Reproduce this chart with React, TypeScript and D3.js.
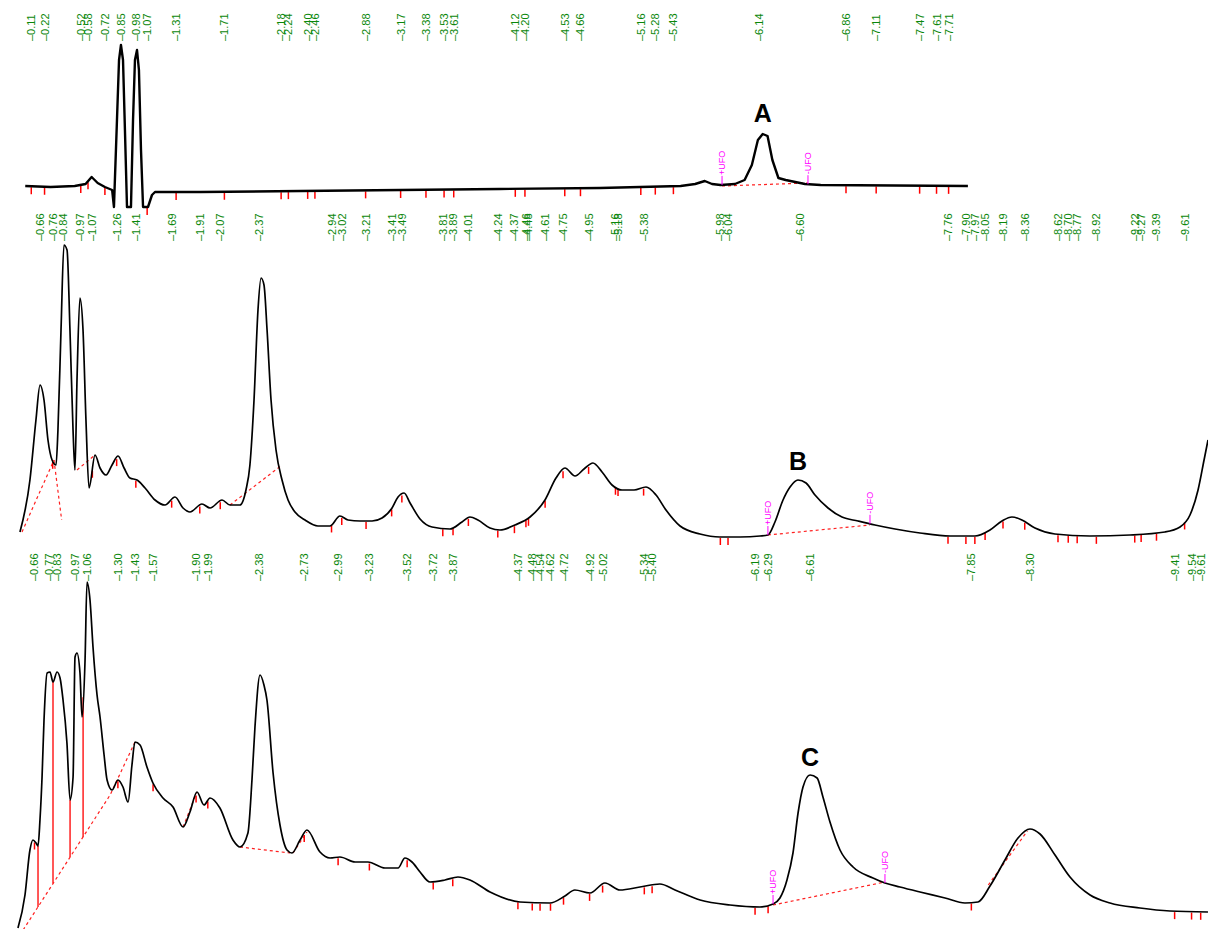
import React from 'react';
import * as d3 from 'd3';

// retention time (min), signal (mAU)
const traceA: [number, number][] = [
  [0.06, 4], [0.27, 3], [0.47, 4], [0.56, 6], [0.61, 13], [0.66, 7], [0.72, 3], [0.78, 0],
  [0.795, -17], [0.82, 70], [0.837, 130], [0.853, 145], [0.87, 130], [0.886, 60], [0.903, -17],
  [0.936, -17], [0.953, 70], [0.969, 130], [0.986, 140], [1.002, 120], [1.019, 40], [1.036, -17],
  [1.077, -17], [1.11, -5], [1.135, -2], [1.51, -2], [2.34, -1], [3.17, 0], [3.99, 1], [4.82, 2],
  [5.49, 4], [5.61, 6], [5.69, 9], [5.75, 6], [5.82, 5], [5.94, 6], [6.02, 10], [6.08, 25],
  [6.13, 50], [6.17, 56], [6.21, 54], [6.25, 30], [6.3, 12], [6.36, 10], [6.44, 8], [6.52, 6],
  [6.65, 5], [7.87, 4],
];

const traceB: [number, number][] = [
  [0.504, 8], [0.582, 60], [0.629, 120], [0.661, 155], [0.692, 140], [0.723, 100], [0.755, 80],
  [0.786, 75], [0.801, 110], [0.825, 210], [0.848, 295], [0.872, 290], [0.895, 210], [0.919, 110],
  [0.934, 70], [0.95, 160], [0.973, 242], [0.997, 210], [1.02, 120], [1.044, 52], [1.091, 85],
  [1.13, 72], [1.177, 65], [1.224, 75], [1.271, 84], [1.318, 72], [1.364, 62], [1.419, 60],
  [1.482, 52], [1.56, 40], [1.638, 35], [1.716, 43], [1.779, 32], [1.833, 28], [1.927, 36],
  [1.99, 32], [2.084, 40], [2.146, 35], [2.224, 35], [2.271, 50], [2.302, 75], [2.334, 140],
  [2.365, 230], [2.389, 262], [2.412, 255], [2.436, 210], [2.467, 140], [2.506, 90], [2.553, 60],
  [2.6, 40], [2.654, 28], [2.733, 20], [2.834, 14], [2.928, 14], [3.006, 24], [3.069, 20],
  [3.163, 19], [3.257, 19], [3.335, 22], [3.413, 32], [3.46, 43], [3.507, 47], [3.554, 37],
  [3.632, 21], [3.726, 13], [3.866, 11], [3.96, 18], [4.022, 23], [4.085, 20], [4.179, 12],
  [4.257, 10], [4.374, 15], [4.492, 23], [4.609, 40], [4.695, 62], [4.765, 72], [4.844, 64],
  [4.914, 71], [4.984, 77], [5.055, 68], [5.133, 55], [5.211, 50], [5.305, 50], [5.399, 53],
  [5.477, 45], [5.555, 30], [5.665, 14], [5.821, 6], [5.977, 3], [6.134, 3], [6.29, 4],
  [6.352, 5], [6.407, 18], [6.47, 40], [6.525, 53], [6.587, 60], [6.65, 57], [6.72, 45],
  [6.822, 32], [6.931, 23], [7.056, 19], [7.189, 15], [7.346, 11], [7.541, 7], [7.776, 4],
  [7.971, 4], [8.088, 10], [8.182, 19], [8.26, 23], [8.338, 20], [8.44, 12], [8.596, 6],
  [8.87, 4], [9.183, 5], [9.456, 8], [9.574, 13], [9.652, 25], [9.715, 50], [9.762, 80],
  [9.793, 100],
];

const traceC: [number, number][] = [
  [0.533, -13], [0.587, 20], [0.625, 65], [0.648, 75], [0.672, 72], [0.687, 69], [0.702, 95],
  [0.718, 138], [0.733, 195], [0.757, 242], [0.779, 243], [0.802, 233], [0.833, 243], [0.856, 237],
  [0.879, 215], [0.909, 172], [0.933, 115], [0.956, 138], [0.971, 258], [0.986, 262], [1.009, 242],
  [1.025, 198], [1.048, 255], [1.063, 333], [1.086, 315], [1.109, 268], [1.14, 220], [1.163, 198],
  [1.194, 160], [1.217, 135], [1.255, 125], [1.301, 135], [1.339, 128], [1.378, 113], [1.408, 150],
  [1.431, 173], [1.47, 170], [1.523, 148], [1.569, 132], [1.646, 117], [1.723, 108], [1.8, 88],
  [1.853, 103], [1.907, 123], [1.961, 110], [2.007, 117], [2.083, 107], [2.183, 75], [2.237, 68],
  [2.298, 82], [2.329, 135], [2.352, 188], [2.391, 240], [2.421, 230], [2.444, 215], [2.491, 142],
  [2.544, 90], [2.598, 65], [2.636, 62], [2.698, 75], [2.751, 85], [2.851, 63], [2.928, 57],
  [3.004, 58], [3.12, 53], [3.219, 53], [3.35, 47], [3.45, 47], [3.503, 57], [3.557, 53],
  [3.619, 43], [3.695, 33], [3.81, 35], [3.91, 38], [4.002, 35], [4.156, 23], [4.386, 13],
  [4.616, 12], [4.731, 19], [4.807, 25], [4.923, 22], [5.038, 32], [5.153, 25], [5.307, 28],
  [5.46, 31], [5.576, 25], [5.768, 15], [5.998, 10], [6.228, 8], [6.328, 11], [6.381, 17],
  [6.435, 35], [6.481, 62], [6.52, 102], [6.558, 128], [6.612, 140], [6.666, 137], [6.711, 118],
  [6.765, 93], [6.842, 65], [6.942, 48], [7.095, 37], [7.187, 32], [7.302, 28], [7.456, 23],
  [7.648, 17], [7.801, 12], [7.901, 13], [7.993, 29], [8.108, 55], [8.208, 77], [8.3, 86],
  [8.377, 81], [8.492, 60], [8.607, 38], [8.761, 20], [8.914, 12], [9.144, 7], [9.374, 4],
  [9.666, 3],
];

// peak retention-time labels
const labelsA = [0.11, 0.22, 0.52, 0.58, 0.72, 0.85, 0.98, 1.07, 1.31, 1.71, 2.18, 2.24, 2.40, 2.46,
  2.88, 3.17, 3.38, 3.53, 3.61, 4.12, 4.20, 4.53, 4.66, 5.16, 5.28, 5.43, 6.14, 6.86, 7.11, 7.47,
  7.61, 7.71];
const labelsB = [0.66, 0.76, 0.84, 0.97, 1.07, 1.26, 1.41, 1.69, 1.91, 2.07, 2.37, 2.94, 3.02, 3.21,
  3.41, 3.49, 3.81, 3.89, 4.01, 4.24, 4.37, 4.46, 4.48, 4.61, 4.75, 4.95, 5.16, 5.18, 5.38, 5.98,
  6.04, 6.60, 7.76, 7.90, 7.97, 8.05, 8.19, 8.36, 8.62, 8.70, 8.77, 8.92, 9.22, 9.27, 9.39, 9.61];
const labelsC = [0.66, 0.77, 0.83, 0.97, 1.06, 1.30, 1.43, 1.57, 1.90, 1.99, 2.38, 2.73, 2.99, 3.23,
  3.52, 3.72, 3.87, 4.37, 4.48, 4.54, 4.62, 4.72, 4.92, 5.02, 5.34, 5.40, 6.19, 6.29, 6.61, 7.85,
  8.30, 9.41, 9.54, 9.61];

// labelled apexes that carry no red integration tick
const apexA = [0.85, 0.98, 6.14];
const apexB = [0.66, 0.84, 0.97, 2.37, 6.60];
const apexC = [0.77, 0.83, 0.97, 1.06, 1.43, 2.38, 6.61, 8.30];

// integration baselines (dashed) as [t, signal] segments
const baselinesA: [number, number][][] = [[[5.833, 4], [6.545, 7]]];
const baselinesB: [number, number][][] = [
  [[0.52, 8], [0.77, 80]], [[0.77, 80], [0.83, 20]], [[0.95, 70], [1.09, 85]],
  [[2.146, 35], [2.553, 75]], [[6.352, 5], [7.15, 15]],
];
const baselinesC: [number, number][][] = [
  [[0.548, -20], [1.24, 120], [1.431, 173]], [[1.8, 88], [1.907, 123]],
  [[2.237, 68], [2.621, 62]], [[2.644, 62], [2.751, 83]], [[7.98, 30], [8.28, 84]],
  [[6.328, 10], [7.187, 33]],
];
const dropsC = [0.687, 0.802, 0.933, 1.033];

// unresolved-front markers [t, text]
const ufoA: [number, string][] = [[5.833, '+UFO'], [6.545, '-UFO']];
const ufoB: [number, string][] = [[6.352, '+UFO'], [7.15, '-UFO']];
const ufoC: [number, string][] = [[6.328, '+UFO'], [7.187, '-UFO']];

const peakNames = ['A', 'B', 'C'];
const peakTimes = [6.17, 6.587, 6.612];

const W = 1208, H = 929;

const panels = [
  { trace: traceA, labels: labelsA, apex: apexA, base: baselinesA, ufo: ufoA, drops: [] as number[],
    x: d3.scaleLinear().domain([0, 10]).range([18, 18 + 1207]),
    y: d3.scaleLinear().domain([0, 150]).range([190, 40]), labelY: 41, sw: 2.4, nameY: 122 },
  { trace: traceB, labels: labelsB, apex: apexB, base: baselinesB, ufo: ufoB, drops: [] as number[],
    x: d3.scaleLinear().domain([0, 10]).range([-44.5, -44.5 + 1279]),
    y: d3.scaleLinear().domain([0, 300]).range([540, 240]), labelY: 241, sw: 1.7, nameY: 470 },
  { trace: traceC, labels: labelsC, apex: apexC, base: baselinesC, ufo: ufoC, drops: dropsC,
    x: d3.scaleLinear().domain([0, 10]).range([-51.5, -51.5 + 1303]),
    y: d3.scaleLinear().domain([0, 350]).range([915, 565]), labelY: 581, sw: 1.7, nameY: 766 },
];

const bis = d3.bisector((d: [number, number]) => d[0]).left;
function valueAt(tr: [number, number][], t: number) {
  const i = Math.max(1, Math.min(tr.length - 1, bis(tr, t)));
  const a = tr[i - 1], b = tr[i];
  return d3.interpolateNumber(a[1], b[1])((t - a[0]) / (b[0] - a[0]));
}

export default function App() {
  return (
    <svg width={W} height={H} style={{ position: 'absolute', left: 0, top: 0, background: '#fff' }}
      fontFamily="'Liberation Sans', Arial, sans-serif">
      {panels.map((p, k) => {
        const line = d3.line<[number, number]>().x(d => p.x(d[0])).y(d => p.y(d[1]))
          .curve(k === 0 ? d3.curveLinear : d3.curveMonotoneX);
        const blLine = d3.line<[number, number]>().x(d => p.x(d[0])).y(d => p.y(d[1]));
        const bl0 = p.base[0];
        const blScale = d3.scaleLinear().domain(bl0.map(d => d[0])).range(bl0.map(d => d[1]));
        return (
          <g key={k}>
            {p.labels.map((t, i) => (
              <text key={'l' + i} transform={`translate(${p.x(t) + 4},${p.labelY}) rotate(-90)`}
                fontSize={11} fill="#0a870a">{'\u2013' + t.toFixed(2)}</text>
            ))}
            {p.base.map((seg, i) => (
              <path key={'b' + i} d={blLine(seg) || ''} fill="none" stroke="#ff2020"
                strokeWidth={1.2} strokeDasharray="3,3" />
            ))}
            {p.drops.map((t, i) => (
              <line key={'d' + i} x1={p.x(t)} x2={p.x(t)} y1={p.y(valueAt(p.trace, t))}
                y2={p.y(blScale(t))} stroke="#ff2020" strokeWidth={1.5} />
            ))}
            {p.labels.filter(t => !p.apex.includes(t)).map((t, i) => {
              const yy = p.y(valueAt(p.trace, t));
              return <line key={'t' + i} x1={p.x(t)} x2={p.x(t)} y1={yy + 1} y2={yy + 8}
                stroke="#ff0000" strokeWidth={1.5} />;
            })}
            <path d={line(p.trace) || ''} fill="none" stroke="#000" strokeWidth={p.sw}
              strokeLinejoin="round" />
            {p.ufo.map(([t, s], i) => {
              const yy = p.y(valueAt(p.trace, t));
              return (
                <g key={'u' + i}>
                  <line x1={p.x(t)} x2={p.x(t)} y1={yy} y2={yy - 9} stroke="#ff00ff" strokeWidth={1} />
                  <text transform={`translate(${p.x(t) + 3.2},${yy - 10}) rotate(-90)`}
                    fontSize={9} fill="#ff00ff">{s}</text>
                </g>
              );
            })}
            <text x={p.x(peakTimes[k])} y={p.nameY} textAnchor="middle" fontSize={25}
              fontWeight="bold" fill="#000">{peakNames[k]}</text>
          </g>
        );
      })}
    </svg>
  );
}
